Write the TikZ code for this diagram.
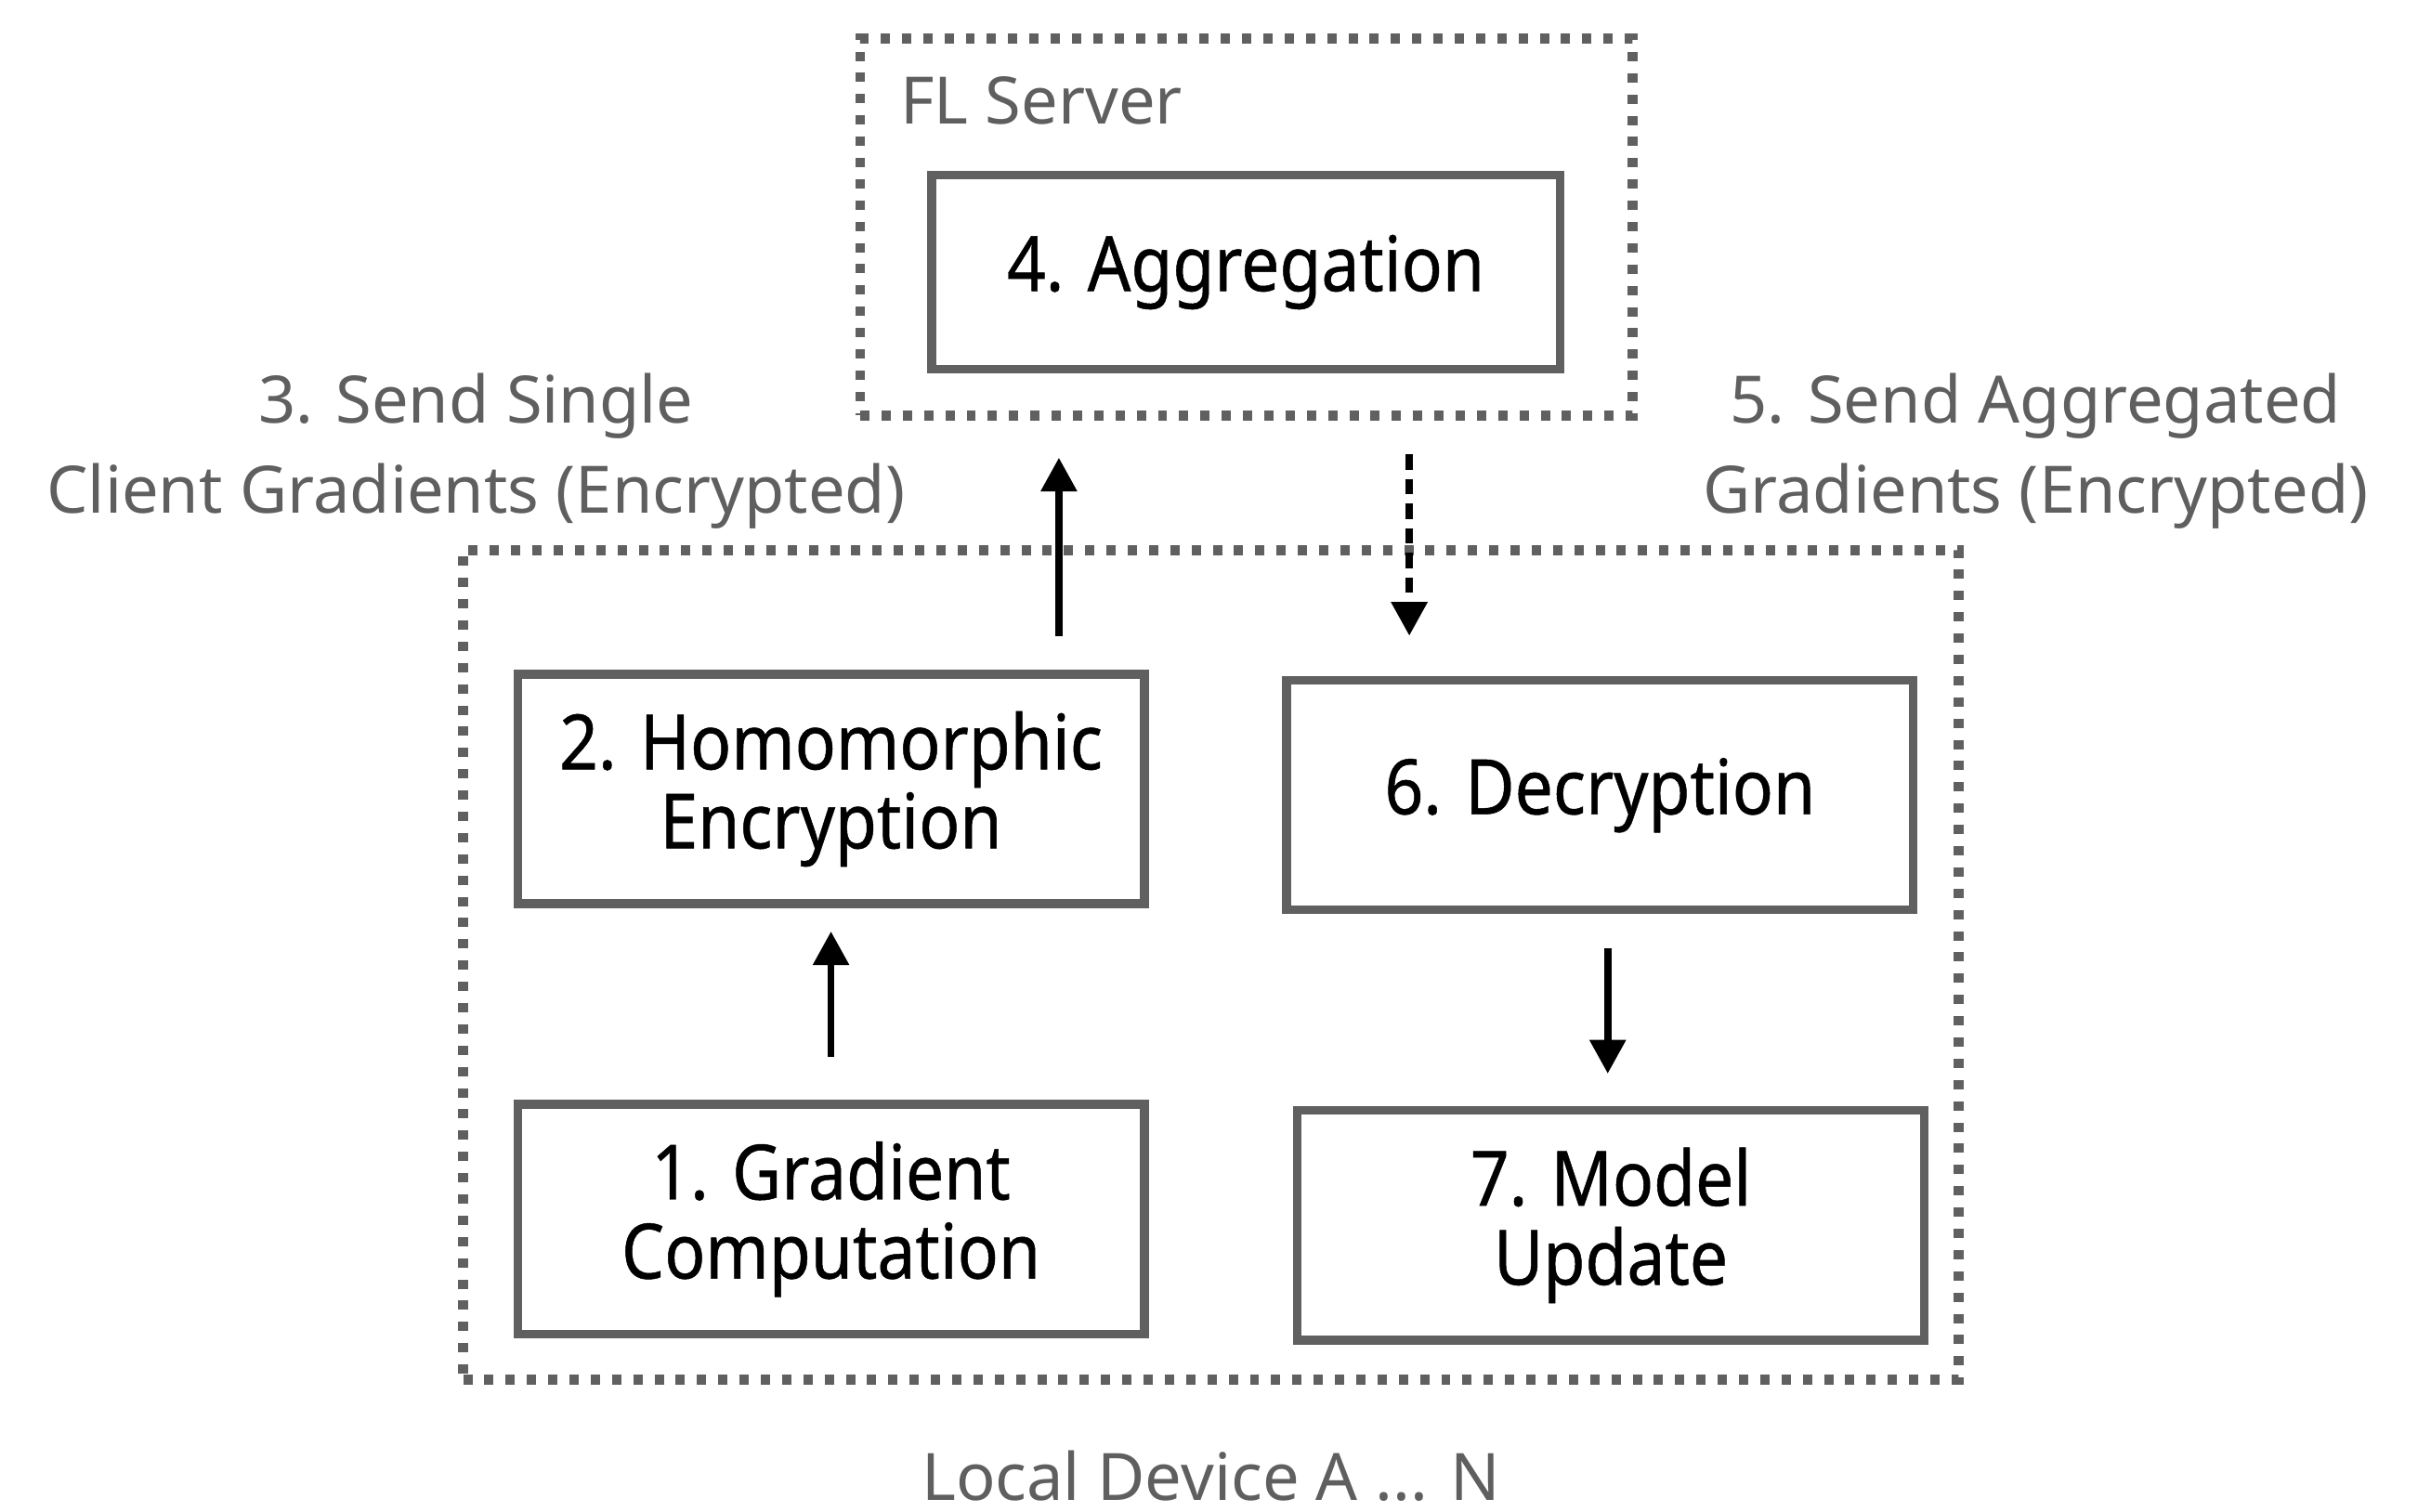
\documentclass[tikz,border=0pt]{standalone}
\usepackage{fontspec}
\setmainfont{Noto Sans}
\newfontfamily\boxfont{Noto Sans}[FakeStretch=0.89,FakeBold=0.6]
\usepackage{xcolor}
\usetikzlibrary{arrows.meta,positioning,calc}
\definecolor{Frame}{HTML}{606060}
\definecolor{Label}{HTML}{5F5F5F}

\begin{document}
\begin{tikzpicture}[x=0.01cm,y=-0.01cm,
  box/.style={draw=Frame,line width=1.6pt,minimum width=4.04cm,minimum height=1.48cm,
    align=center,font=\boxfont\fontsize{14}{14.5}\selectfont,inner sep=0pt},
  frame/.style={draw=Frame,line width=1.8pt,dash pattern=on 1.7pt off 2.2pt,inner sep=0pt},
  lbl/.style={text=Label,align=center,font=\fontsize{12}{16.5}\selectfont,inner sep=0pt},
  flow/.style={-{Triangle[length=6.2pt,width=6.4pt]},line width=1.3pt}]
  \useasboundingbox (0,0) rectangle (1568,975);
  % server side
  \node[frame,minimum width=4.98cm,minimum height=2.43cm] (server) at (804,146.5) {};
  \node[lbl,anchor=west] (srvlbl) at (580,65) {FL Server};
  \node[box,minimum width=4.05cm,minimum height=1.25cm] (agg) at (803.5,175.5) {4. Aggregation};
  % local device side
  \node[frame,minimum width=9.64cm,minimum height=5.35cm] (local) at (781,622.5) {};
  \node[lbl] (loclbl) at (781,952) {Local Device A ... N};
  \node[box] (hom) at (536,509) {2. Homomorphic\\Encryption};
  \node[box] (dec) at (1032,513) {6. Decryption};
  \node[box] (grad) at (536,786.5) {1. Gradient\\Computation};
  \node[box] (upd) at (1039,790.5) {7. Model\\Update};
  % transfer labels
  \node[lbl] (sendup) at (307,291) {3. Send Single\\Client Gradients (Encrypted)};
  \node[lbl] (senddown) at (1313,291) {5. Send Aggregated\\Gradients (Encrypted)};
  % arrows
  \coordinate (upx) at (683,0);
  \coordinate (downx) at (909,0);
  \coordinate (updx) at (1037,0);
  \draw[flow,shorten <=0.28cm,shorten >=0.15cm] (grad) -- (hom);
  \draw[flow,shorten <=0.22cm,shorten >=0.24cm] (hom.north -| upx) -- (server.south -| upx);
  \draw[flow,dash pattern=on 2.8pt off 1.7pt,shorten <=0.22cm,shorten >=0.26cm] (server.south -| downx) -- (dec.north -| downx);
  \draw[flow,shorten <=0.22cm,shorten >=0.21cm] (dec.south -| updx) -- (upd.north -| updx);
\end{tikzpicture}
\end{document}
